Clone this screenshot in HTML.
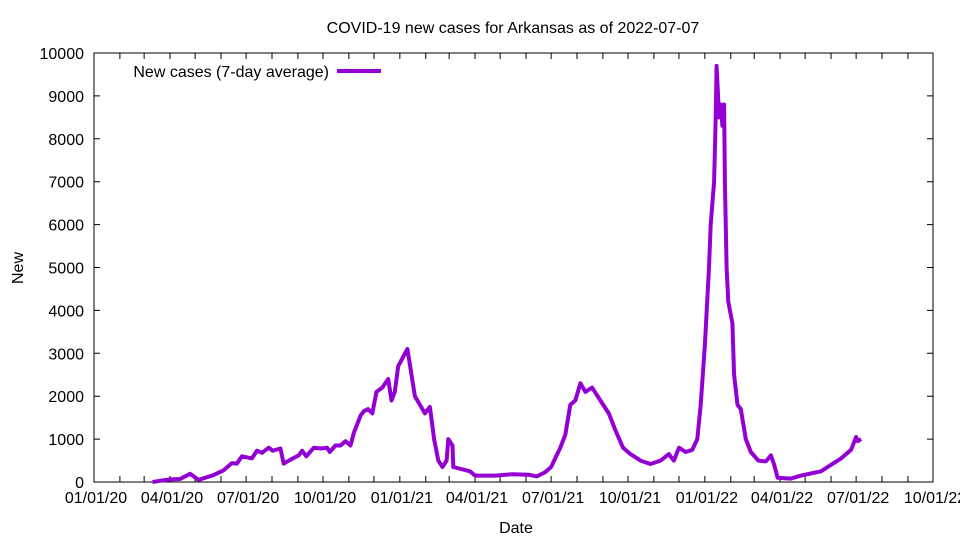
<!DOCTYPE html>
<html><head><meta charset="utf-8"><style>
body{margin:0;background:#fff}
svg{display:block;font-family:"Liberation Sans",sans-serif}
</style></head><body>
<svg id="c" width="960" height="540"></svg>
<script>
const dates=["2020-03-11","2020-03-21","2020-04-01","2020-04-13","2020-04-25","2020-05-05","2020-05-23","2020-06-04","2020-06-14","2020-06-20","2020-06-26","2020-07-08","2020-07-14","2020-07-20","2020-07-28","2020-08-02","2020-08-11","2020-08-15","2020-08-23","2020-09-02","2020-09-06","2020-09-11","2020-09-20","2020-09-28","2020-10-06","2020-10-09","2020-10-16","2020-10-22","2020-10-28","2020-11-03","2020-11-07","2020-11-15","2020-11-19","2020-11-24","2020-11-29","2020-12-04","2020-12-11","2020-12-18","2020-12-22","2020-12-26","2020-12-30","2021-01-10","2021-01-19","2021-01-25","2021-01-31","2021-02-06","2021-02-11","2021-02-16","2021-02-21","2021-02-26","2021-02-28","2021-03-05","2021-03-06","2021-03-26","2021-04-01","2021-04-25","2021-05-15","2021-06-04","2021-06-14","2021-06-24","2021-07-01","2021-07-12","2021-07-18","2021-07-24","2021-07-30","2021-08-05","2021-08-11","2021-08-19","2021-08-29","2021-09-08","2021-09-16","2021-09-25","2021-10-04","2021-10-16","2021-10-28","2021-11-09","2021-11-19","2021-11-25","2021-12-01","2021-12-09","2021-12-17","2021-12-23","2021-12-27","2022-01-01","2022-01-06","2022-01-08","2022-01-12","2022-01-14","2022-01-15","2022-01-18","2022-01-20","2022-01-22","2022-01-24","2022-01-25","2022-01-27","2022-01-29","2022-02-03","2022-02-05","2022-02-09","2022-02-13","2022-02-19","2022-02-25","2022-03-06","2022-03-15","2022-03-21","2022-03-25","2022-03-29","2022-04-14","2022-04-26","2022-05-20","2022-06-01","2022-06-13","2022-06-25","2022-07-01","2022-07-03","2022-07-07"];
const values=[0,30,60,70,190,50,160,270,440,430,600,550,730,680,800,730,780,430,520,620,730,600,800,780,800,700,850,850,950,850,1150,1550,1650,1700,1600,2100,2200,2400,1900,2100,2700,3100,2000,1800,1600,1750,1000,500,350,500,1000,850,350,250,150,150,180,170,130,230,350,800,1100,1800,1900,2300,2100,2200,1900,1600,1200,800,650,500,420,500,650,500,800,700,750,1000,1800,3200,5000,6000,7000,8500,9700,8500,8800,8300,8800,7000,5000,4200,3700,2500,1800,1700,1000,700,500,480,620,400,100,80,150,250,400,550,750,1050,950,1000];
const yTicks=[0,1000,2000,3000,4000,5000,6000,7000,8000,9000,10000];
const xTickLabels=["01/01/20","04/01/20","07/01/20","10/01/20","01/01/21","04/01/21","07/01/21","10/01/21","01/01/22","04/01/22","07/01/22","10/01/22"];
const NS="http://www.w3.org/2000/svg",svg=document.getElementById('c');
const L=94,R=933,T=53,B=482;
const t0=Date.UTC(2020,0,1),t1=Date.UTC(2022,9,1);
function ms(s){const p=s.split('-');return Date.UTC(+p[0],p[1]-1,+p[2]);}
function xs(s){return L+(ms(s)-t0)/(t1-t0)*(R-L);}
function ys(v){return B-v/10000*(B-T);}
function mk(tag,a,txt){const e=document.createElementNS(NS,tag);for(const k in a)e.setAttribute(k,a[k]);if(txt!=null)e.textContent=txt;svg.appendChild(e);return e;}
let e;
e=mk('rect',{x:L,y:T,width:R-L,height:B-T,fill:'none',stroke:'#000','stroke-width':1});


yTicks.forEach(v=>{const y=ys(v);
 e=mk('path',{d:`M${L} ${y}h6M${R} ${y}h-6`,stroke:'#000'});
 
 
 e=mk('text',{x:84,y:y+6,'text-anchor':'end','font-size':16},v);
 
 
});
for(let m=0;m<=33;m++){const d=new Date(Date.UTC(2020,m,1));
 const s=d.toISOString().slice(0,10);const x=xs(s);
 e=mk('path',{d:`M${x} ${B}v-6M${x} ${T}v6`,stroke:'#000'});
 
 
 if(m%3===0){
  e=mk('text',{x:x+2,y:503,'text-anchor':'middle','font-size':16},xTickLabels[m/3]);
  
  
 }
}
e=mk('text',{x:513,y:33,'text-anchor':'middle','font-size':16},'COVID-19 new cases for Arkansas as of 2022-07-07');


e=mk('text',{x:516,y:533,'text-anchor':'middle','font-size':16},'Date');


e=mk('text',{x:0,y:0,'text-anchor':'middle','font-size':16,transform:'translate(23,268) rotate(-90)'},'New');


e=mk('text',{x:329,y:77,'text-anchor':'end','font-size':16},'New cases (7-day average)');


e=mk('path',{d:'M337 71H381',stroke:'#9400d3','stroke-width':4});


const d=dates.map((s,i)=>(i?'L':'M')+xs(s).toFixed(1)+' '+ys(values[i]).toFixed(1)).join('');
e=mk('path',{d:d,fill:'none',stroke:'#9400d3','stroke-width':4,'stroke-linejoin':'round'});


</script>
</body></html>
